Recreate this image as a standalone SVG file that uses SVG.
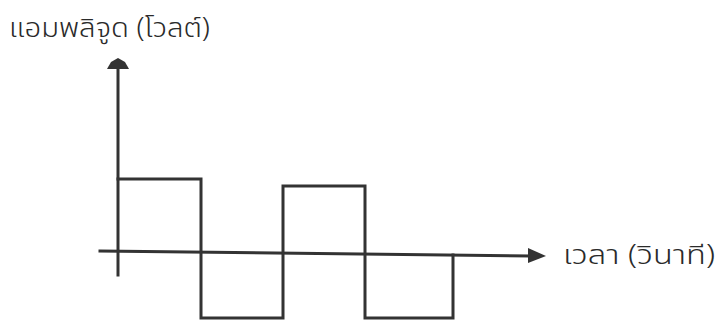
<svg xmlns="http://www.w3.org/2000/svg" width="723" height="322" viewBox="0 0 723 322">
<style>
.ln{fill:none;stroke:#333;stroke-width:3;stroke-linecap:square;stroke-linejoin:miter}
.lbl{font-family:"Noto Sans Thai","Noto Sans Thai UI","Noto Sans",sans-serif;font-size:27px;font-weight:300;fill:#2a2a2a}
</style>
<rect width="723" height="322" fill="#fff"/>
<g id="axes">
<line class="ln" x1="118" y1="275" x2="118" y2="68"/>
<polygon points="118,58 111,62 107,69 129,69 125,62" fill="#333"/>
<line class="ln" x1="100" y1="251" x2="530" y2="256"/>
<polygon points="528,248 546,256 528,263" fill="#333"/>
</g>
<g id="wave">
<polyline class="ln" points="118,179 201,179 201,318 283,318 283,186 365,186 365,318 453,318 453,255"/>
</g>
<g id="label-y"><text class="lbl" x="9" y="37" textLength="201" lengthAdjust="spacingAndGlyphs">แอมพลิจูด (โวลต์)</text></g>
<g id="label-x"><text class="lbl" x="563" y="264" textLength="152" lengthAdjust="spacingAndGlyphs">เวลา (วินาที)</text></g>
</svg>
